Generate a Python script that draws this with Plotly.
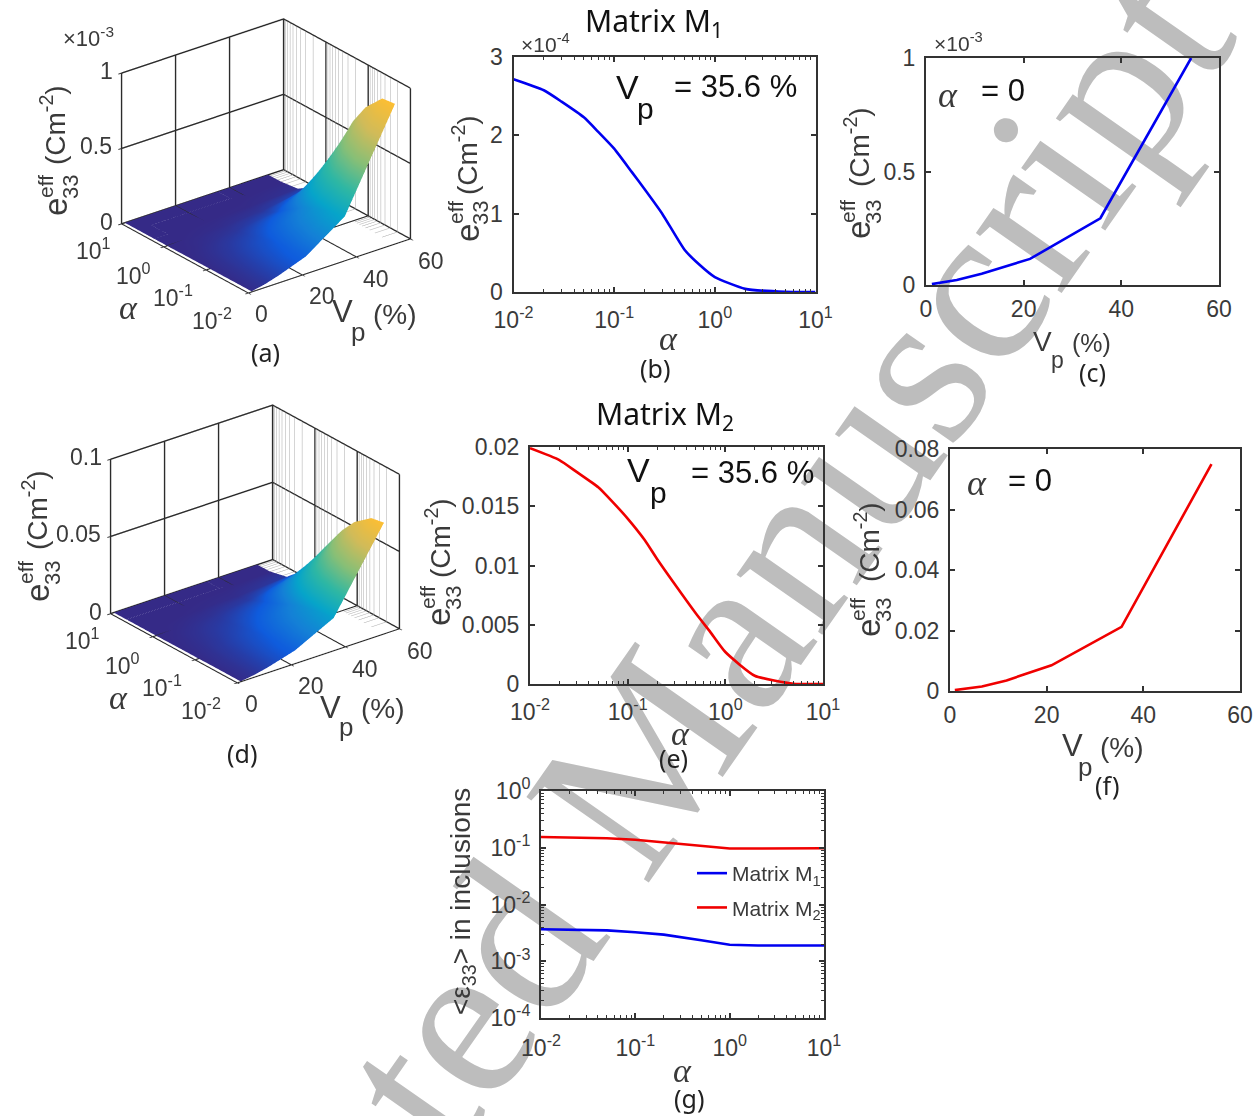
import numpy as np
import plotly.graph_objects as go

W, H = 1258, 1116

# ---------- data ----------
alpha = [0.01, 0.02, 0.05, 0.1, 0.2, 0.5, 1, 2, 5, 10]
alpha_fine = [0.01, 0.02, 0.03, 0.05, 0.07, 0.1, 0.15, 0.2, 0.3, 0.5, 0.7, 1, 2, 5, 10]
vp_b = [1.2, 6.3, 11.4, 21.3, 35.7, 54.3]
e_b = [2.715, 2.575, 2.43, 2.23, 2.04, 1.83, 1.53, 1.315, 1.0, 0.54, 0.35, 0.19, 0.04, 0.002, 0.0]
e_c = [0.004, 0.022, 0.05, 0.115, 0.294, 1.0]
e_e = [0.0199, 0.0189, 0.0179, 0.0166, 0.01537, 0.01396, 0.01213, 0.01055, 0.00848, 0.00595, 0.0044, 0.0027, 0.0007, 0.00002, 0.0]
vp_f = [1.0, 6.6, 11.7, 21.0, 35.5, 54.1]
e_f = [0.0003, 0.0015, 0.0035, 0.0085, 0.0212, 0.075]
g_m1 = [3.66e-3, 3.6e-3, 3.5e-3, 3.24e-3, 2.95e-3, 2.35e-3, 1.95e-3, 1.9e-3, 1.9e-3, 1.89e-3]
g_m2 = [0.155, 0.152, 0.147, 0.138, 0.124, 0.11, 0.097, 0.097, 0.098, 0.098]
surf_m1 = [
    [.004, .004, .003, .003, .002, .001, 0, 0, 0, 0],
    [.022, .021, .018, .015, .011, .004, .002, 0, 0, 0],
    [.05, .047, .041, .034, .024, .010, .004, .001, 0, 0],
    [.115, .109, .094, .078, .055, .023, .008, .002, 0, 0],
    [.294, .279, .241, .198, .141, .060, .021, .004, 0, 0],
    [.93, .92, .80, .66, .47, .205, .07, .015, .001, 0],
]
surf_m2 = [
    [.0003, .0003, .0003, .0002, .0002, .0001, 0, 0, 0, 0],
    [.0015, .0014, .0013, .0011, .0008, .0005, .0002, .0001, 0, 0],
    [.0035, .0033, .0029, .0025, .0018, .0011, .0005, .0001, 0, 0],
    [.0085, .0081, .0071, .0060, .0045, .0026, .0012, .0003, 0, 0],
    [.0212, .0201, .0177, .0148, .0111, .0064, .0029, .0007, 0, 0],
    [.0720, .0705, .0620, .0520, .0394, .0225, .0102, .0026, .0001, 0],
]
decades = [0.01, 0.1, 1, 10]
decade_labels = ["10<sup>-2</sup>", "10<sup>-1</sup>", "10<sup>0</sup>", "10<sup>1</sup>"]
minor_alpha = [m * d for d in [0.01, 0.1, 1] for m in range(2, 10)]
parula = [[0, "#352a87"], [0.1, "#0f5cdd"], [0.2, "#1481d6"], [0.3, "#06a4ca"],
          [0.45, "#2eb7a4"], [0.62, "#87bf77"], [0.8, "#d1bb59"], [1, "#fdbe33"]]

TXT = "#3a3a3a"
LINE = "#333333"
SANS = "Liberation Sans"
CAP = "Noto Sans"
SERIF = "Liberation Serif"


def px(x):
    return x / W


def py(y):
    return 1 - y / H


annotations = []


def T(text, x, y, size=23, color=TXT, angle=0, family=SANS, italic=False):
    annotations.append(dict(text=text, x=px(x), y=py(y), xref="paper", yref="paper", showarrow=False,
                            xanchor="center", yanchor="middle", textangle=angle,
                            font=dict(size=size, color=color, family=family,
                                      style="italic" if italic else "normal")))


def ylabel(ex, ey, effx, effy, subx, cmx, cmy, size=28):
    T("e", ex, ey, size + 5, angle=-90)
    T("eff", effx, effy, 21, angle=-90)
    T("33", subx, effy, 22, angle=-90)
    T("(Cm<sup>-2</sup>)", cmx, cmy, size, angle=-90)


def vplabel(vx, vy, pxx, pyy, cx, cy, size=29):
    T("V", vx, vy, size + 2)
    T("p", pxx, pyy, size - 3)
    T("(%)", cx, cy, size - 1)


fig = go.Figure()
line_kw = dict(width=2.6)


def axis(x0, x1, y0, y1, kind, vals, text, rng, minor=None, standoff=4):
    d = dict(domain=[px(x0), px(x1)] if kind == "x" else [py(y1), py(y0)],
             type="log" if minor else "linear", range=rng, tickmode="array",
             tickvals=vals, ticktext=text, ticks="inside", ticklen=5, tickwidth=1.5, tickcolor=LINE,
             linecolor=LINE, linewidth=2, mirror="ticks", showgrid=False, zeroline=False,
             tickfont=dict(size=23, color=TXT, family=SANS), ticklabelstandoff=standoff)
    if minor:
        d["minor"] = dict(ticks="inside", ticklen=3, tickwidth=1, tickcolor=LINE, tickvals=minor)
    return d


layout_axes = {}
boxes = {
    "": (513.5, 815.5, 57, 292),
    "2": (926, 1219, 58, 285),
    "3": (530, 823, 447, 684),
    "4": (950, 1240, 449, 691),
    "5": (541, 824, 791, 1018),
}
layout_axes["xaxis"] = axis(*boxes[""], "x", decades, decade_labels, [-2, 1], minor_alpha, 6)
layout_axes["yaxis"] = axis(*boxes[""], "y", [0, 1, 2, 3], ["0", "1", "2", "3"], [0, 3])
layout_axes["xaxis2"] = axis(*boxes["2"], "x", [0, 20, 40, 60], ["0", "20", "40", "60"], [0, 60], None, 2)
layout_axes["yaxis2"] = axis(*boxes["2"], "y", [0, .5, 1], ["0", "0.5", "1"], [0, 1])
layout_axes["xaxis3"] = axis(*boxes["3"], "x", decades, decade_labels, [-2, 1], minor_alpha, 6)
layout_axes["yaxis3"] = axis(*boxes["3"], "y", [0, .005, .01, .015, .02], ["0", "0.005", "0.01", "0.015", "0.02"], [0, .02])
layout_axes["xaxis4"] = axis(*boxes["4"], "x", [0, 20, 40, 60], ["0", "20", "40", "60"], [0, 60], None, 2)
layout_axes["yaxis4"] = axis(*boxes["4"], "y", [0, .02, .04, .06, .08], ["0", "0.02", "0.04", "0.06", "0.08"], [0, .08])
layout_axes["xaxis5"] = axis(*boxes["5"], "x", decades, decade_labels, [-2, 1], minor_alpha, 8)
g_major = [1e-4, 1e-3, 1e-2, 1e-1, 1]
g_labels = ["10<sup>-4</sup>", "10<sup>-3</sup>", "10<sup>-2</sup>", "10<sup>-1</sup>", "10<sup>0</sup>"]
g_minor = [m * d for d in [1e-4, 1e-3, 1e-2, 1e-1] for m in range(2, 10)]
layout_axes["yaxis5"] = axis(*boxes["5"], "y", g_major, g_labels, [-4, 0], g_minor)
for i in ["", "2", "3", "4", "5"]:
    layout_axes["xaxis" + i]["anchor"] = "y" + i
    layout_axes["yaxis" + i]["anchor"] = "x" + i

smooth = dict(shape="spline", smoothing=0.5)
fig.add_trace(go.Scatter(x=alpha_fine, y=e_b, mode="lines", line=dict(color="#0000f0", **smooth, **line_kw), xaxis="x", yaxis="y", showlegend=False))
fig.add_trace(go.Scatter(x=vp_b, y=e_c, mode="lines", line=dict(color="#0000f0", **line_kw), xaxis="x2", yaxis="y2", showlegend=False))
fig.add_trace(go.Scatter(x=alpha_fine, y=e_e, mode="lines", line=dict(color="#f00000", **smooth, **line_kw), xaxis="x3", yaxis="y3", showlegend=False))
fig.add_trace(go.Scatter(x=vp_f, y=e_f, mode="lines", line=dict(color="#f00000", **line_kw), xaxis="x4", yaxis="y4", showlegend=False))
fig.add_trace(go.Scatter(x=alpha, y=g_m1, mode="lines", name="Matrix M<sub>1</sub>", legendgroup="m1", line=dict(color="#0000f0", **line_kw), xaxis="x5", yaxis="y5"))
fig.add_trace(go.Scatter(x=alpha, y=g_m2, mode="lines", name="Matrix M<sub>2</sub>", legendgroup="m2", line=dict(color="#f00000", **line_kw), xaxis="x5", yaxis="y5"))


def add_3d(scene, surf, zmax):
    fig.add_trace(go.Surface(x=vp_b, y=alpha, z=np.array(surf).T.tolist(), colorscale=parula, cmin=0, cmax=max(map(max, surf)),
                             showscale=False, scene=scene,
                             lighting=dict(ambient=1, diffuse=0, specular=0, roughness=1, fresnel=0),
                             contours=dict(x=dict(highlight=False), y=dict(highlight=False), z=dict(highlight=False))))
    xs, ys, zs = [], [], []
    for a in minor_alpha:
        xs += [60, 60, vp_b[-1], None]
        ys += [a, a, a, None]
        zs += [zmax, 0, 0, None]
    fig.add_trace(go.Scatter3d(x=xs, y=ys, z=zs, mode="lines", line=dict(color="#aaaaaa", width=1),
                               scene=scene, showlegend=False, hoverinfo="skip"))


add_3d("scene", surf_m1, 1)
add_3d("scene2", surf_m2, 0.1)


def sa(text, x, y, z, dx, dy, size=23):
    return dict(text=text, x=x, y=np.log10(y).item(), z=z, showarrow=False, xshift=dx, yshift=dy,
                font=dict(size=size, color=TXT, family=SANS), xanchor="center", yanchor="middle")


def scene_layout(cx, cy, ztop, zticks, ztext, scale, zaspect, zshift):
    w, h = 340, 280
    eye = np.array([-0.557, -0.712, 0.427]) * 1.3
    ann = []
    for v, t, shift in zip(zticks, ztext, zshift):
        ann.append(sa(t, 0, 10, v, *shift))
    for v, t, shift in zip(decades[::-1], decade_labels[::-1], [(-28, -25), (-30, -27), (-33, -26), (-36, -26)]):
        ann.append(sa(t, 0, v, 0, *shift))
    for v, shift in zip([0, 20, 40, 60], [(14, -21), (20, -21), (20, -22), (21, -22)]):
        ann.append(sa(str(v), v, 0.01, 0, *shift))
    common = dict(showbackground=False, showspikes=False, showgrid=True, gridcolor="#2b2b2b", gridwidth=3,
                  zeroline=False, showline=False, ticks="outside", ticklen=4, tickcolor=LINE, tickwidth=2,
                  showticklabels=False, title=dict(text=""))
    return dict(domain=dict(x=[px(cx - w / 2), px(cx + w / 2)], y=[py(cy + h / 2), py(cy - h / 2)]),
                camera=dict(projection=dict(type="orthographic"), up=dict(x=0, y=0, z=1), center=dict(x=0, y=0, z=0),
                            eye=dict(x=eye[0], y=eye[1], z=eye[2])),
                aspectmode="manual", aspectratio=dict(x=scale, y=scale, z=zaspect * scale),
                xaxis=dict(range=[0, 60], tickvals=[0, 20, 40, 60], **common),
                yaxis=dict(type="log", range=[-2, 1], tickvals=decades, **common),
                zaxis=dict(range=[0, ztop], tickvals=zticks, **common),
                annotations=ann)


scene1 = scene_layout(265.5, 156, 1, [0, .5, 1], ["0", "0.5", "1"], 1.47, 0.81, [(-15, 2), (-25, 2), (-15, 2)])
scene2 = scene_layout(255, 544, .1, [0, .05, .1], ["0", "0.05", "0.1"], 1.47, 0.83, [(-15, 2), (-32, 2), (-25, 2)])

# panel a
T("×10<sup>-3</sup>", 88, 37, 22)
ylabel(55, 207, 45, 187, 70, 53, 125)
T("α", 128, 307, 34, TXT, family=SERIF, italic=True)
vplabel(342, 312, 358, 332, 395, 315)
T("(a)", 265, 352, 25, "#222222", family=CAP)

# panel b
T("×10<sup>-4</sup>", 545, 43, 21)
ylabel(467, 233, 455, 213, 480, 465, 155)
T("V", 627, 87, 34, "#111111")
T("p", 645, 108, 30, "#111111")
T("= 35.6 %", 735, 86, 31, "#111111")
T("α", 668, 338, 34, TXT, family=SERIF, italic=True)
T("(b)", 655, 368, 25, "#222222", family=CAP)
T("Matrix M<sub>1</sub>", 654, 22, 30, "#111111", family=CAP)

# panel c
T("×10<sup>-3</sup>", 958, 42, 21)
ylabel(858, 230, 847, 212, 873, 857, 147)
T("α", 948, 95, 36, TXT, family=SERIF, italic=True)
T("= 0", 1003, 90, 31, "#111111")
vplabel(1042, 342, 1057, 360, 1091, 343, 26)
T("(c)", 1092, 372, 25, "#222222", family=CAP)

# panel d
ylabel(37, 593, 25, 573, 52, 35, 510)
T("α", 118, 697, 34, TXT, family=SERIF, italic=True)
vplabel(330, 707, 346, 727, 383, 708)
T("(d)", 242, 753, 25, "#222222", family=CAP)

# panel e
T("Matrix M<sub>2</sub>", 665, 415, 30, "#111111", family=CAP)
T("V", 638, 470, 34, "#111111")
T("p", 658, 492, 30, "#111111")
T("= 35.6 %", 752, 472, 31, "#111111")
ylabel(438, 617, 427, 598, 453, 438, 538)
T("α", 680, 733, 34, TXT, family=SERIF, italic=True)
T("(e)", 673, 758, 25, "#222222", family=CAP)

# panel f
T("α", 977, 483, 36, TXT, family=SERIF, italic=True)
T("= 0", 1030, 480, 31, "#111111")
ylabel(868, 628, 857, 610, 883, 867, 542)
vplabel(1072, 745, 1085, 767, 1122, 747)
T("(f)", 1107, 785, 25, "#222222", family=CAP)

# panel g
T("&lt;ε<sub>33</sub>&gt; in inclusions", 462, 902, 28, angle=-90)
T("α", 682, 1070, 34, TXT, family=SERIF, italic=True)
T("(g)", 689, 1098, 25, "#222222", family=CAP)

fig.update_layout(
    width=W, height=H, autosize=False, margin=dict(l=0, r=0, t=0, b=0, pad=0, autoexpand=False),
    paper_bgcolor="white", plot_bgcolor="rgba(0,0,0,0)", annotations=annotations,
    scene=scene1, scene2=scene2,
    legend=dict(x=px(692), y=py(853), xanchor="left", yanchor="top", bgcolor="rgba(0,0,0,0)",
                font=dict(size=21, color=TXT, family=SANS), itemwidth=30, tracegroupgap=4),
    shapes=[dict(type="rect", xref="paper", yref="paper", x0=px(586), x1=px(606), y0=py(790), y1=py(770),
                 layer="below", line=dict(width=0), fillcolor="rgba(0,0,0,0)",
                 label=dict(text="Accepted Manuscript", textangle=-55, textposition="middle center",
                            xanchor="center", yanchor="middle",
                            font=dict(family=SERIF, size=228, color="#bdbdbd")))],
    **layout_axes,
)
fig.write_html("out.html", config={"displayModeBar": False},
               post_script="document.body.style.margin='0';document.documentElement.style.overflow='hidden';")
